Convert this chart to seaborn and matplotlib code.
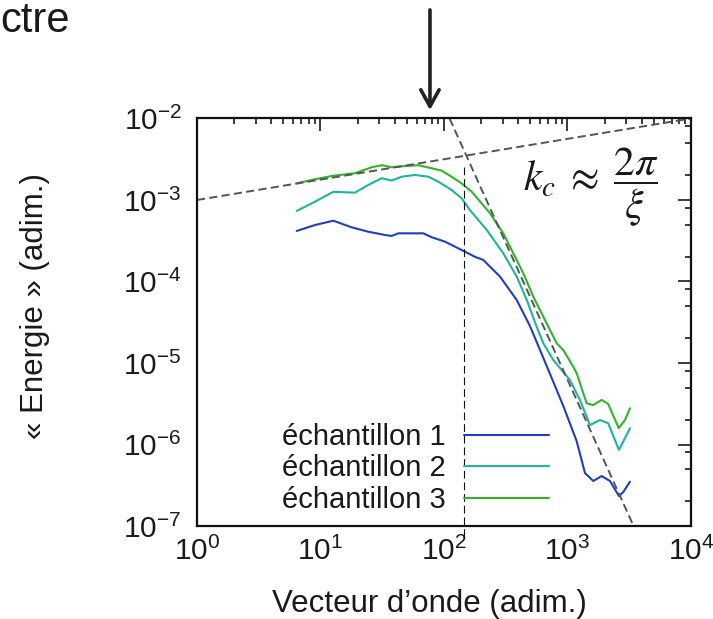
import numpy as np
import pandas as pd
import matplotlib
matplotlib.use("Agg")
import matplotlib.pyplot as plt
from matplotlib.ticker import LogLocator, NullFormatter
import seaborn as sns

# --- spectra: wave vector k and "energy" E for the three samples ---
k_1 = [6.41, 9.03, 12.7, 17.9, 24.4, 33.3, 37.7, 42.7, 54.8, 68.0, 79.5, 102, 123,
       148, 178, 208, 284, 388, 497, 679, 925, 1187, 1386, 1618, 1892, 2208, 2612,
       2831, 3207]
E_1 = [4.17e-4, 4.93e-4, 5.57e-4, 4.62e-4, 4.08e-4, 3.72e-4, 3.62e-4, 3.90e-4,
       3.90e-4, 3.90e-4, 3.49e-4, 3.08e-4, 2.67e-4, 2.32e-4, 2.01e-4, 1.84e-4,
       1.15e-4, 5.93e-5, 2.84e-5, 9.19e-6, 2.97e-6, 1.10e-6, 4.47e-7, 3.57e-7,
       4.10e-7, 3.57e-7, 2.33e-7, 2.61e-7, 3.50e-7]

k_2 = [6.41, 9.03, 12.7, 19.0, 24.4, 31.3, 37.7, 45.4, 58.2, 74.6, 89.9, 115, 139,
       162, 222, 302, 388, 468, 563, 637, 767, 1047, 1262, 1521, 1833, 2138, 2612,
       3207]
E_2 = [7.33e-4, 9.53e-4, 1.26e-3, 1.23e-3, 1.53e-3, 1.85e-3, 1.73e-3, 1.93e-3,
       2.03e-3, 1.93e-3, 1.68e-3, 1.33e-3, 1.05e-3, 7.54e-4, 4.29e-4, 2.22e-4,
       1.15e-4, 5.93e-5, 2.79e-5, 1.75e-5, 1.09e-5, 6.18e-6, 3.52e-6, 1.73e-6,
       2.00e-6, 1.82e-6, 8.57e-7, 1.58e-6]

k_3 = [6.41, 8.49, 12.3, 19.0, 26.0, 31.3, 37.7, 48.3, 61.9, 79.5, 95.8, 115, 139,
       168, 236, 302, 364, 439, 529, 637, 818, 925, 1114, 1187, 1430, 1618, 1892,
       2138, 2600, 2923, 3207]
E_3 = [1.60e-3, 1.76e-3, 1.97e-3, 2.13e-3, 2.52e-3, 2.67e-3, 2.52e-3, 2.61e-3,
       2.67e-3, 2.45e-3, 2.29e-3, 1.93e-3, 1.60e-3, 1.26e-3, 6.87e-4, 3.90e-4,
       2.22e-4, 1.26e-4, 6.51e-5, 3.70e-5, 1.75e-5, 1.44e-5, 9.0e-6, 7.48e-6,
       3.20e-6, 3.05e-6, 3.52e-6, 3.14e-6, 1.59e-6, 2.0e-6, 2.78e-6]

labels = ["échantillon 1", "échantillon 2", "échantillon 3"]
colors = ["#1f3fbf", "#1db59b", "#2fb52a"]

# power-law guides (low-k and high-k regimes)
fit_low_k = [1, 1e4]
fit_low_E = [1e-3, 1e-2]
fit_high_k = [111, 3430]
fit_high_E = [1e-2, 1e-7]

# crossover wave vector k_c and its marker
k_c = 146
k_c_E = [2.54e-3, 6.8e-8]
arrow_k = 77

xticks = [1e0, 1e1, 1e2, 1e3, 1e4]
yticks = [1e-7, 1e-6, 1e-5, 1e-4, 1e-3, 1e-2]

df = pd.concat([
    pd.DataFrame({"k": k, "E": E, "sample": lab})
    for k, E, lab in zip([k_1, k_2, k_3], [E_1, E_2, E_3], labels)
])

sns.set_theme(style="white")
plt.rcParams["font.family"] = ["Liberation Sans", "DejaVu Sans"]
plt.rcParams["text.color"] = "#1a1a1a"
plt.rcParams["axes.labelcolor"] = "#1a1a1a"
plt.rcParams["xtick.color"] = "#1a1a1a"
plt.rcParams["ytick.color"] = "#1a1a1a"

fig = plt.figure(figsize=(7.13, 6.19), dpi=100)
ax = fig.add_axes([0.2763, 0.1502, 0.6928, 0.6584])

sns.lineplot(data=df, x="k", y="E", hue="sample", palette=colors,
             sort=False, estimator=None, lw=1.5, ax=ax)

ax.set_xscale("log")
ax.set_yscale("log")
ax.set_xlim(xticks[0], xticks[-1])
ax.set_ylim(yticks[0], yticks[-1])
ax.set_xticks(xticks)
ax.set_yticks(yticks)
ax.xaxis.set_minor_locator(LogLocator(base=10, subs=np.arange(2, 10), numticks=20))
ax.yaxis.set_minor_locator(LogLocator(base=10, subs=(2, 5, 8), numticks=20))
ax.xaxis.set_minor_formatter(NullFormatter())
ax.yaxis.set_minor_formatter(NullFormatter())

for s in ax.spines.values():
    s.set_linewidth(1.6)
    s.set_color("#111111")
ax.tick_params(which="both", direction="in", top=True, right=True, width=1.2)
ax.tick_params(which="major", length=9.5)
ax.tick_params(which="minor", length=4.5)
ax.tick_params(axis="x", which="major", labelsize=21.5, pad=8)
ax.tick_params(axis="y", which="major", labelsize=21.5, pad=11)

# guide lines
ax.plot(fit_low_k, fit_low_E, color="#555555", lw=1.4, dashes=(4.2, 2.2))
ax.plot(fit_high_k, fit_high_E, color="#555555", lw=1.4, dashes=(4.2, 2.2))
ax.plot([k_c, k_c], k_c_E, color="#111111", lw=0.8, dashes=(7, 3.5), clip_on=False)

ax.annotate("", xy=(arrow_k, 0.822), xycoords=("data", "figure fraction"),
            xytext=(arrow_k, 0.984), textcoords=("data", "figure fraction"),
            arrowprops=dict(arrowstyle="->,head_length=1.0,head_width=0.55",
                            color="#222222", lw=2.6, shrinkA=0, shrinkB=0),
            annotation_clip=False)

ax.text(0.798, 0.832, r"$k_c \;\approx\; \dfrac{2\pi}{\xi}$", transform=ax.transAxes,
        ha="center", va="center", fontsize=30, math_fontfamily="stix",
        color="#1a1a1a")

ax.set_xlabel("Vecteur d’onde (adim.)", fontsize=22.5)
ax.set_ylabel("« Energie » (adim.)", fontsize=22.5)
ax.xaxis.set_label_coords(0.47, -0.155)
ax.yaxis.set_label_coords(-0.298, 0.54)

handles, labs = ax.get_legend_handles_labels()
ax.legend(handles, labs, loc="lower right", bbox_to_anchor=(0.7126, 0.03),
          frameon=False, markerfirst=False, fontsize=21, handlelength=2.9,
          handletextpad=0.65, labelspacing=0.12, borderpad=0, borderaxespad=0)

fig.text(0.0, 0.949, "ctre", ha="left", va="baseline", fontsize=30, color="#1a1a1a")

fig.savefig("out.png", dpi=100, facecolor="white")
